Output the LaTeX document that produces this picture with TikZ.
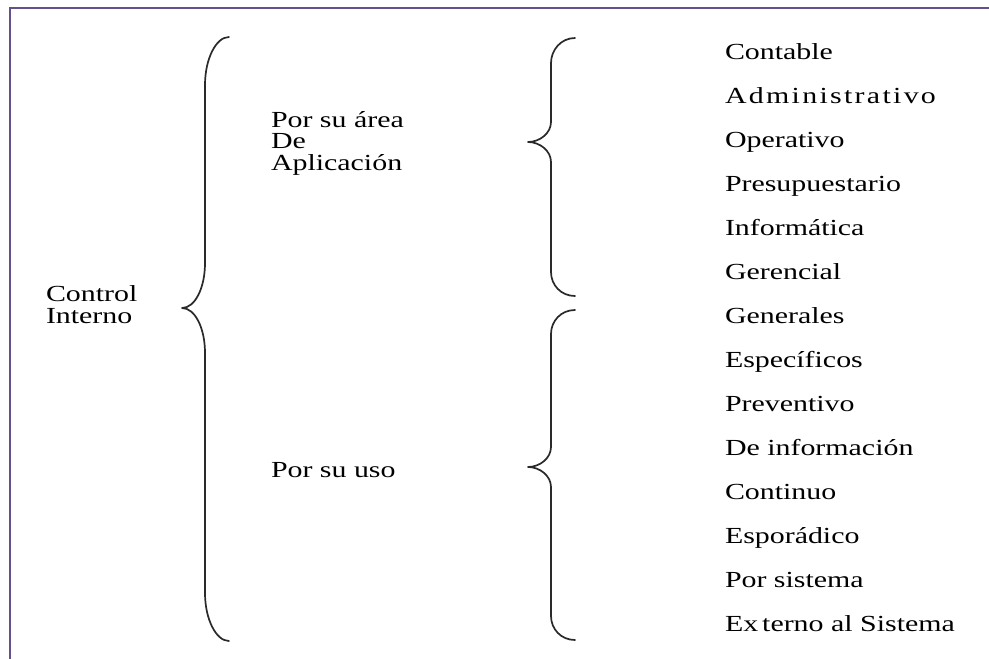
\documentclass[tikz,border=0pt]{standalone}
\usepackage{fontspec}
\setmainfont{Liberation Serif}[FakeStretch=1.3]
\definecolor{framepurple}{HTML}{64508C}
\definecolor{braceink}{HTML}{2A2A2A}
\newcommand\spaced[1]{{\addfontfeature{LetterSpace=10}#1}}
\begin{document}
\begin{tikzpicture}[x=1pt,y=-1pt,
  lbl/.style={anchor=base west,inner sep=0pt,outer sep=0pt,align=left,
    font=\fontsize{23}{21.5}\selectfont},
  brace/.style={draw=braceink,line width=1.7pt,line cap=round,line join=round}]
\useasboundingbox (0,0) rectangle (989,659);
% outer frame (only top and left edges fall inside the page)
\draw[framepurple,line width=2.8pt] (10,700) -- (10,8) -- (1000,8);

% root (base anchor sits on the last line)
\node[lbl] (root) at (46,323) {Control\\Interno};

% first level
\node[lbl] (area) at (271,170) {Por su área\\De\\Aplicación};
\node[lbl] (uso) at (271,477) {Por su uso};

% leaves
\foreach \t [count=\i from 0] in {Contable,\spaced{Administrativo},Operativo,Presupuestario,
  Informática,Gerencial,Generales,Específicos,Preventivo,De información,
  Continuo,Esporádico,Por sistema,Ex\kern4pt terno al Sistema}
  \node[lbl] (leaf\i) at (725,59+44*\i) {\t};

% big brace
\draw[brace] (229,37) .. controls (216,37) and (205,59) .. (205,85) -- (205,263)
  .. controls (205,288) and (195,308) .. (182,308)
  .. controls (195,308) and (205,328) .. (205,353) -- (205,593)
  .. controls (205,619) and (216,641) .. (229,641);
% upper brace
\draw[brace] (575,38) .. controls (561,38) and (551,50) .. (551,63) -- (551,122)
  .. controls (551,133) and (540,142) .. (528,142)
  .. controls (540,142) and (551,151) .. (551,162) -- (551,272)
  .. controls (551,285) and (561,296) .. (575,296);
% lower brace
\draw[brace] (575,310) .. controls (561,310) and (551,321) .. (551,334) -- (551,447)
  .. controls (551,458) and (540,467) .. (528,467)
  .. controls (540,467) and (551,476) .. (551,487) -- (551,616)
  .. controls (551,629) and (561,640) .. (575,640);
\end{tikzpicture}
\end{document}
